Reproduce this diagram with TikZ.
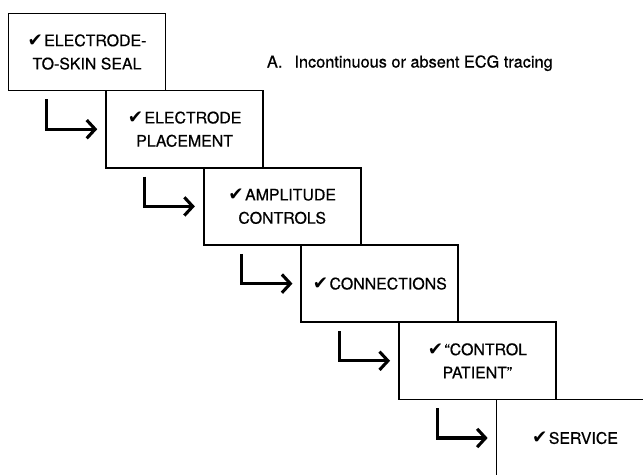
\documentclass[tikz,border=0pt]{standalone}
\usepackage{fontspec}
\setmainfont{TeX Gyre Heros}
\newfontfamily\boxfont{TeX Gyre Heros}[FakeBold=0.6]
\newfontfamily\checkfont{DejaVu Sans}
\usetikzlibrary{positioning, arrows.meta}
\newcommand{\chk}{{\checkfont\fontsize{13}{13}\selectfont ✔}\hspace{1pt}}

\begin{document}
\begin{tikzpicture}[
    stage/.style={rectangle, draw, line width=1.2pt,
                  minimum width=3.925cm, minimum height=1.93cm,
                  align=center, font=\boxfont\fontsize{11.3}{16.5}\selectfont},
    flow/.style={-{Straight Barb[length=6pt, width=13pt]}, line width=2.2pt},
    caption/.style={font=\boxfont\fontsize{11.6}{13}\selectfont, anchor=west},
]
\useasboundingbox (0,0) rectangle (16.075,11.85);
\clip (0,0) rectangle (16.075,11.85);

% ============== check boxes, stepping down ==============
\node[stage] (seal) at (2.175,10.55) {\chk ELECTRODE-\\TO-SKIN SEAL};
\node[stage] (place) at (4.615,8.62) {\chk ELECTRODE\\PLACEMENT};
\node[stage] (ampl) at (7.055,6.69) {\chk AMPLITUDE\\CONTROLS};
\node[stage] (conn) at (9.495,4.76) {\chk CONNECTIONS};
\node[stage] (ctrl) at (11.935,2.83) {\chk “CONTROL\\PATIENT”};
\node[stage] (serv) at (14.375,0.9) {\chk SERVICE};

% ============== caption ==============
\node[caption] (title) at (6.55,10.27)
    {A.\hspace{0.3cm}Incontinuous or absent ECG tracing};

% ============== step arrows ==============
\draw[flow] ([xshift=0.975cm, yshift=-0.2cm]seal.south west) |- ([xshift=-0.2cm]place.west);
\draw[flow] ([xshift=0.975cm, yshift=-0.2cm]place.south west) |- ([xshift=-0.2cm]ampl.west);
\draw[flow] ([xshift=0.975cm, yshift=-0.2cm]ampl.south west) |- ([xshift=-0.2cm]conn.west);
\draw[flow] ([xshift=0.975cm, yshift=-0.2cm]conn.south west) |- ([xshift=-0.2cm]ctrl.west);
\draw[flow] ([xshift=0.975cm, yshift=-0.2cm]ctrl.south west) |- ([xshift=-0.2cm]serv.west);

\end{tikzpicture}
\end{document}
